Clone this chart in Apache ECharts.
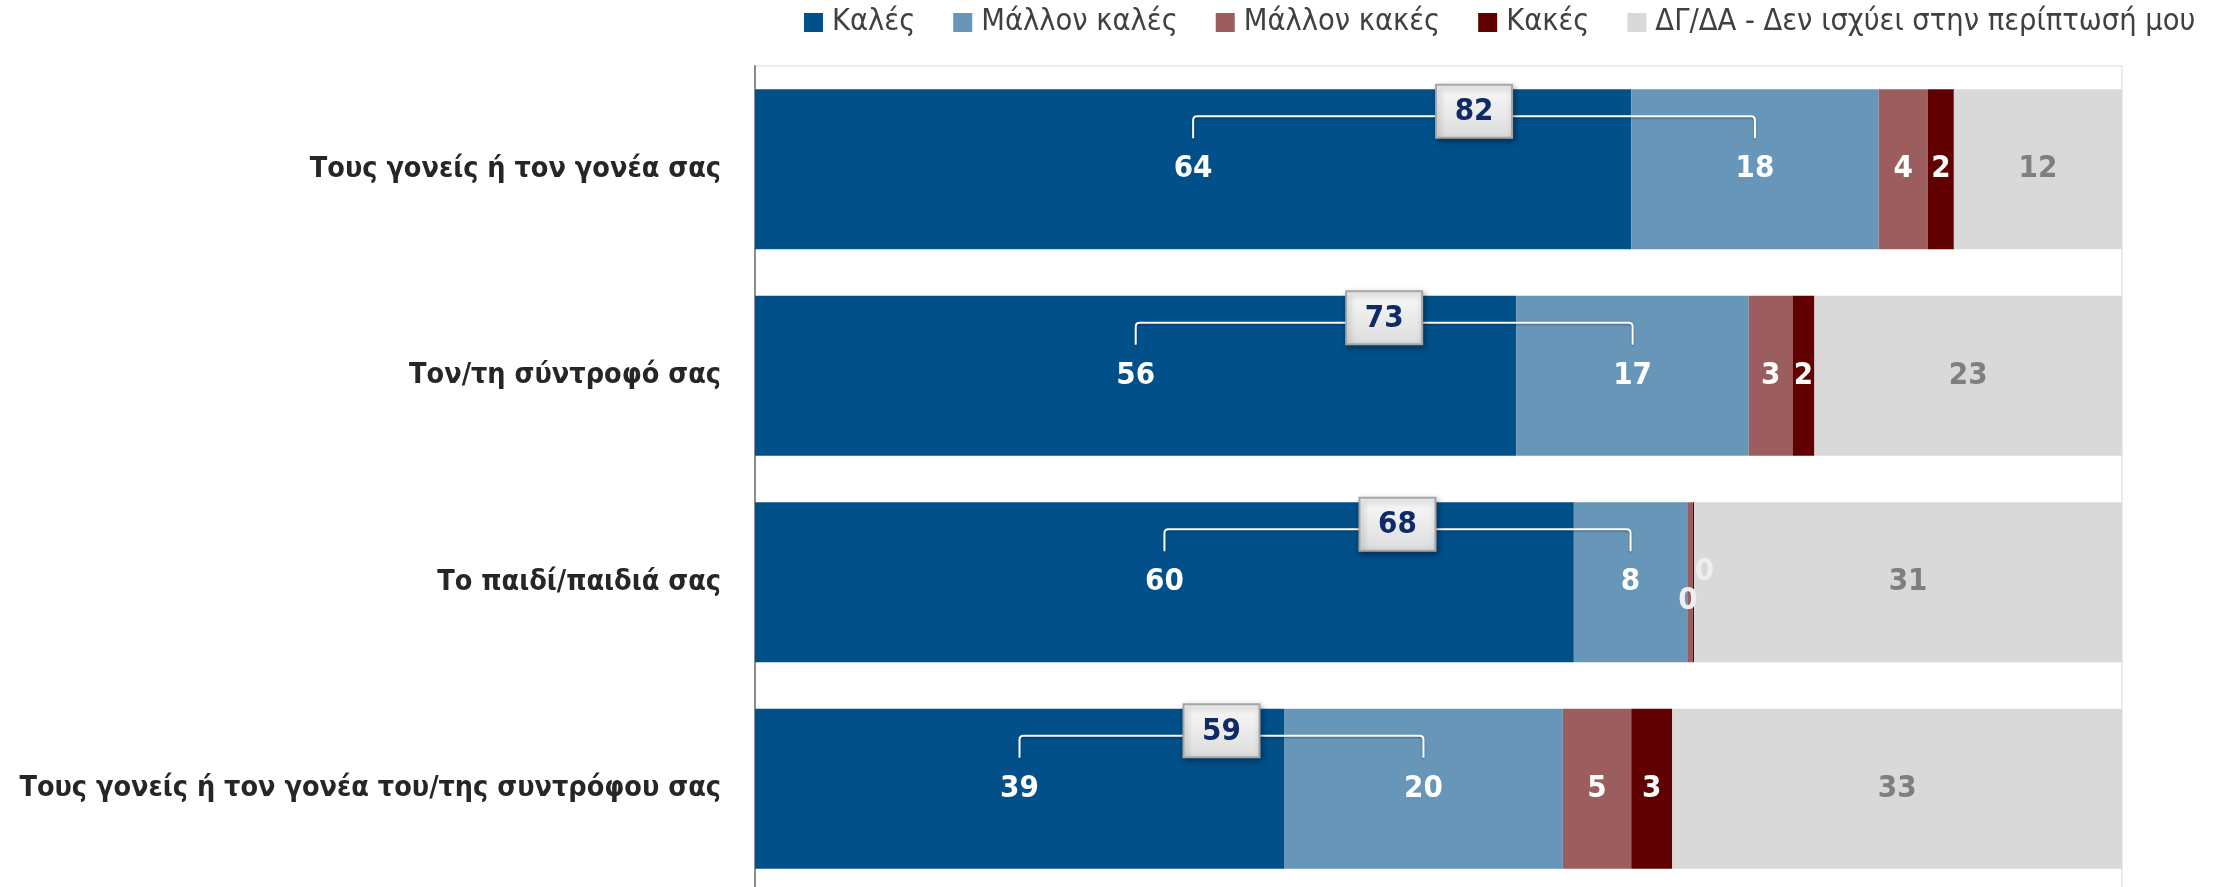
<!DOCTYPE html>
<html>
<head>
<meta charset="utf-8">
<script src="https://cdn.jsdelivr.net/npm/echarts@6/dist/echarts.min.js"></script>
<style>
  html, body { margin: 0; padding: 0; background: #fff; }
  #chart { width: 2227px; height: 887px; }
</style>
</head>
<body>
<div id="chart"></div>
<script>
// κατηγορίες (από πάνω προς τα κάτω)
const categories = [
  'Τους γονείς ή τον γονέα σας',
  'Τον/τη σύντροφό σας',
  'Το παιδί/παιδιά σας',
  'Τους γονείς ή τον γονέα του/της συντρόφου σας'
];
const seriesNames = ['Καλές', 'Μάλλον καλές', 'Μάλλον κακές', 'Κακές', 'ΔΓ/ΔΑ - Δεν ισχύει στην περίπτωσή μου'];
const kales = [64.1, 55.7, 59.9, 38.7];
const mallonKales = [18.1, 17.0, 8.3, 20.4];
const mallonKakes = [3.6, 3.2, 0.4, 5.0];
const kakes = [1.9, 1.6, 0.1, 3.0];
const dkda = [12.3, 22.5, 31.3, 32.9];
const totals = [82, 73, 68, 59];

const FONT = "'DejaVu Sans Condensed', 'Liberation Sans', sans-serif";
const colors = ['#01508a', '#6796b9', '#9b5d5d', '#600000', '#d9d9d9'];
const labelColors = ['#ffffff', '#ffffff', '#ffffff', '#ffffff', '#7f7f7f'];
const BAR_FRAC = 0.775;

const myChart = echarts.init(document.getElementById('chart'));

const allVals = [kales, mallonKales, mallonKakes, kakes, dkda];
// μικρές τιμές (0) - οι ετικέτες τους μετακινούνται λίγο όπως στο πρωτότυπο
const smallOffsets = [null, null, [-2, 19], [11, -10], null];

const barSeries = allVals.map((vals, i) => ({
  name: seriesNames[i],
  type: 'bar',
  stack: 'total',
  barWidth: (BAR_FRAC * 100) + '%',
  itemStyle: { color: colors[i] },
  label: {
    show: true,
    position: 'inside',
    color: labelColors[i],
    fontFamily: FONT,
    fontWeight: 'bold',
    fontSize: 31,
    formatter: p => Math.round(p.value)
  },
  data: vals.map(v => v < 1 && smallOffsets[i]
    ? { value: v, label: { position: 'inside', offset: smallOffsets[i], color: '#eeeeee' } }
    : v)
}));

// bracket + κουτί συνόλου (Καλές + Μάλλον καλές)
const calloutData = categories.map((c, idx) => [totals[idx], idx, kales[idx], mallonKales[idx]]);

const calloutSeries = {
  type: 'custom',
  z: 10,
  silent: true,
  encode: { x: 0, y: 1 },
  data: calloutData,
  renderItem: function (params, api) {
    const cat = api.value(1);
    const v1 = api.value(2);
    const v2 = api.value(3);
    const bandH = api.size([0, 1])[1];
    const barH = bandH * BAR_FRAC;
    const cy = api.coord([0, cat])[1];
    const top = cy - barH / 2;
    const x1 = api.coord([v1 / 2, cat])[0];
    const x2 = api.coord([v1 + v2 / 2, cat])[0];
    const mid = (x1 + x2) / 2;
    const lineY = top + 27;
    const endY = top + 49;
    const r = 4;
    const bw = 76, bh = 53;
    const boxY = top + 22 - bh / 2;
    return {
      type: 'group',
      children: [
        {
          type: 'path',
          shape: {
            pathData: 'M' + x1 + ' ' + endY + ' L' + x1 + ' ' + (lineY + r) +
              ' Q' + x1 + ' ' + lineY + ' ' + (x1 + r) + ' ' + lineY +
              ' L' + (x2 - r) + ' ' + lineY +
              ' Q' + x2 + ' ' + lineY + ' ' + x2 + ' ' + (lineY + r) +
              ' L' + x2 + ' ' + endY
          },
          style: {
            fill: null,
            stroke: '#ffffff',
            lineWidth: 2,
            shadowColor: 'rgba(0,0,0,0.35)',
            shadowBlur: 2,
            shadowOffsetY: 1
          }
        },
        {
          type: 'rect',
          shape: { x: mid - bw / 2, y: boxY, width: bw, height: bh },
          style: {
            fill: new echarts.graphic.LinearGradient(0, 0, 0, 1, [
              { offset: 0, color: '#fafafa' },
              { offset: 1, color: '#dcdcdc' }
            ]),
            stroke: '#a6a6a6',
            lineWidth: 2,
            shadowColor: 'rgba(0,0,0,0.35)',
            shadowBlur: 6,
            shadowOffsetX: 2,
            shadowOffsetY: 3
          }
        },
        {
          type: 'text',
          style: {
            x: mid,
            y: boxY + bh / 2 + 1,
            text: String(api.value(0)),
            align: 'center',
            verticalAlign: 'middle',
            fill: '#0f2a64',
            fontFamily: FONT,
            fontWeight: 'bold',
            fontSize: 31
          }
        }
      ]
    };
  }
};

const option = {
  animation: false,
  backgroundColor: '#ffffff',
  legend: {
    data: seriesNames,
    top: 7,
    left: 804,
    padding: 0,
    icon: 'rect',
    itemWidth: 19,
    itemHeight: 19,
    itemGap: 38,
    textStyle: { fontFamily: FONT, fontSize: 30.5, color: '#404040', padding: [0, 0, 0, 4] }
  },
  grid: {
    left: 755,
    right: 105,
    top: 66,
    height: 826,
    show: true,
    borderColor: '#ececec',
    borderWidth: 2,
    outerBoundsMode: 'none',
    containLabel: false
  },
  xAxis: {
    type: 'value',
    min: 0,
    max: 100,
    show: false
  },
  yAxis: {
    type: 'category',
    data: categories,
    inverse: true,
    axisTick: { show: false },
    axisLine: { show: true, lineStyle: { color: '#8c8c8c', width: 2 } },
    splitLine: { show: false },
    axisLabel: {
      margin: 34,
      color: '#262626',
      fontFamily: FONT,
      fontWeight: 'bold',
      fontSize: 28.5
    }
  },
  series: barSeries.concat([calloutSeries])
};

myChart.setOption(option);
window.addEventListener('resize', function () {
  myChart.resize();
});
</script>
</body>
</html>
